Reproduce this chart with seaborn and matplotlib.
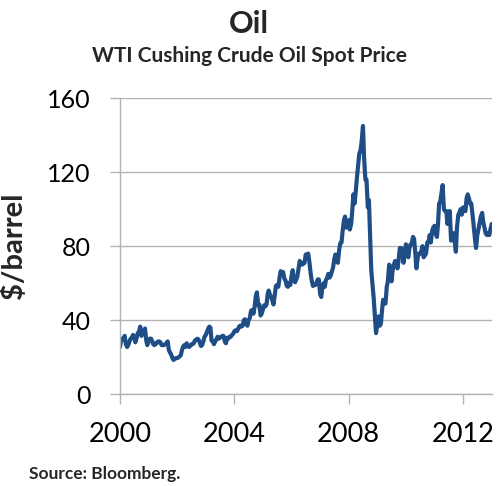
import matplotlib
matplotlib.use('Agg')
import matplotlib.pyplot as plt
import matplotlib.dates as mdates
import seaborn as sns
import pandas as pd
import numpy as np

sns.set_theme(style='white')
plt.rcParams['font.family'] = ['Lato', 'DejaVu Sans']

# --- data: WTI spot, two readings per month (1st / 15th), Jan 2000 -> Jan 2013 ---
wti_2000 = [25.5, 29.5, 29.5, 30.5, 31.5, 27.0, 25.5, 26.5, 28.5, 30.0, 30.5, 32.0,
            31.0, 28.0, 30.5, 33.0, 34.0, 36.5, 31.5, 34.0, 34.0, 35.5, 29.0, 26.5]
wti_2001 = [29.0, 30.0, 30.0, 28.5, 27.0, 26.5, 27.5, 27.5, 28.5, 28.5, 28.0, 26.5,
            26.5, 26.5, 27.0, 27.5, 28.5, 24.0, 22.5, 21.5, 19.5, 18.5, 19.0, 19.5]
wti_2002 = [19.5, 19.8, 20.5, 21.0, 23.5, 25.5, 26.5, 25.5, 27.5, 26.0, 25.5, 26.0,
            27.0, 27.0, 27.5, 29.0, 29.5, 30.0, 29.5, 28.0, 26.0, 26.5, 28.5, 31.0]
wti_2003 = [32.0, 33.5, 35.5, 36.5, 36.0, 29.0, 28.5, 27.0, 28.5, 29.5, 31.0, 30.0,
            30.5, 31.0, 31.5, 31.5, 28.5, 27.5, 30.5, 30.0, 31.0, 31.0, 32.0, 32.5]
wti_2004 = [34.0, 34.5, 34.0, 35.0, 36.5, 37.0, 36.5, 37.0, 40.0, 40.5, 38.0, 37.0,
            40.0, 41.0, 45.0, 45.5, 43.5, 47.0, 53.0, 55.0, 48.0, 48.5, 42.5, 43.5]
wti_2005 = [46.0, 48.0, 47.5, 48.5, 54.0, 56.0, 53.5, 52.5, 50.5, 48.5, 54.0, 58.5,
            59.0, 58.0, 63.0, 66.5, 64.5, 66.0, 62.5, 61.5, 58.5, 58.0, 60.0, 59.0]
wti_2006 = [64.0, 67.0, 61.5, 60.5, 62.0, 63.5, 68.0, 72.0, 71.0, 70.0, 70.5, 71.0,
            75.5, 74.0, 76.0, 72.0, 65.5, 61.5, 58.5, 59.0, 59.0, 60.0, 62.0, 62.0]
wti_2007 = [54.0, 52.5, 58.5, 60.0, 58.0, 61.5, 63.0, 65.0, 63.0, 64.0, 66.5, 68.5,
            73.0, 75.5, 72.0, 71.0, 78.0, 81.5, 82.0, 88.0, 94.0, 96.0, 90.0, 93.0]
wti_2008 = [94.0, 89.0, 92.0, 99.0, 108.0, 103.0, 110.0, 117.0, 124.0, 130.0, 132.0, 137.0,
            145.0, 128.0, 116.0, 116.0, 101.0, 105.0, 85.0, 67.0, 59.0, 52.0, 42.0, 33.0]
wti_2009 = [38.0, 42.0, 37.0, 38.0, 45.0, 51.0, 49.0, 49.0, 58.0, 61.0, 70.0, 69.0,
            61.0, 67.0, 70.0, 72.0, 70.0, 68.0, 73.0, 79.0, 79.0, 78.0, 71.0, 76.0]
wti_2010 = [81.0, 76.0, 74.0, 79.0, 81.0, 81.0, 85.0, 84.0, 76.0, 68.0, 74.0, 76.0,
            76.0, 77.0, 80.0, 74.0, 75.0, 76.0, 82.0, 82.0, 86.0, 82.0, 88.0, 90.0]
wti_2011 = [91.0, 87.0, 85.0, 92.0, 103.0, 104.0, 109.0, 113.0, 100.0, 99.0, 99.0, 92.0,
            96.0, 99.0, 83.0, 86.0, 87.0, 83.0, 77.0, 90.0, 97.0, 98.0, 100.0, 97.0]
wti_2012 = [101.0, 99.0, 99.0, 106.0, 108.0, 106.0, 103.0, 103.0, 97.0, 91.0, 84.0, 79.0,
            86.0, 89.0, 93.0, 96.0, 98.0, 93.0, 90.0, 87.0, 86.0, 87.0, 86.0, 89.0]
wti_2013 = [92.0]

prices = (wti_2000 + wti_2001 + wti_2002 + wti_2003 + wti_2004 + wti_2005 + wti_2006
          + wti_2007 + wti_2008 + wti_2009 + wti_2010 + wti_2011 + wti_2012 + wti_2013)
dates = pd.date_range('2000-01-01', periods=len(prices), freq='SMS')
df = pd.DataFrame({'Date': dates, 'Price': prices})

y_ticks = [0, 40, 80, 120, 160]
x_tick_years = [2000, 2004, 2008, 2012]

grid_col = '#b3b3b3'
line_col = '#1F4E86'

fig = plt.figure(figsize=(4.98, 4.86), dpi=100)
ax = fig.add_axes([0.241, 0.189, 0.747, 0.609])

sns.lineplot(data=df, x='Date', y='Price', ax=ax, color=line_col, linewidth=3)

ax.set_ylim(0, 160)
ax.set_yticks(y_ticks)
ax.set_xlim(pd.Timestamp('2000-01-01'), pd.Timestamp('2013-01-05'))
ax.set_xticks([pd.Timestamp(f'{y}-01-01') for y in x_tick_years])
ax.xaxis.set_major_formatter(mdates.DateFormatter('%Y'))

ax.grid(axis='y', color=grid_col, linewidth=1)
ax.grid(axis='x', visible=False)
for side in ['top', 'right']:
    ax.spines[side].set_visible(False)
for side in ['left', 'bottom']:
    ax.spines[side].set_color(grid_col)
    ax.spines[side].set_linewidth(1)

ax.tick_params(axis='both', colors=grid_col, labelcolor='black',
               length=7, width=1, direction='out')
ax.tick_params(axis='y', pad=14, left=True, labelsize=18)
ax.tick_params(axis='x', pad=13, bottom=True, labelsize=19.5)

ax.set_xlabel('')
ax.set_ylabel('$/barrel', fontsize=21, fontweight='bold')
ax.yaxis.set_label_coords(-0.25, 0.5)

fig.text(0.5, 0.932, 'Oil', ha='center', fontsize=22, fontweight='bold')
fig.text(0.5, 0.872, 'WTI Cushing Crude Oil Spot Price', ha='center', fontsize=15, fontweight='bold')
fig.text(0.058, 0.014, 'Source: Bloomberg.', ha='left', fontsize=12.5, fontweight='bold')

fig.savefig('out.png', dpi=100, facecolor='white')
